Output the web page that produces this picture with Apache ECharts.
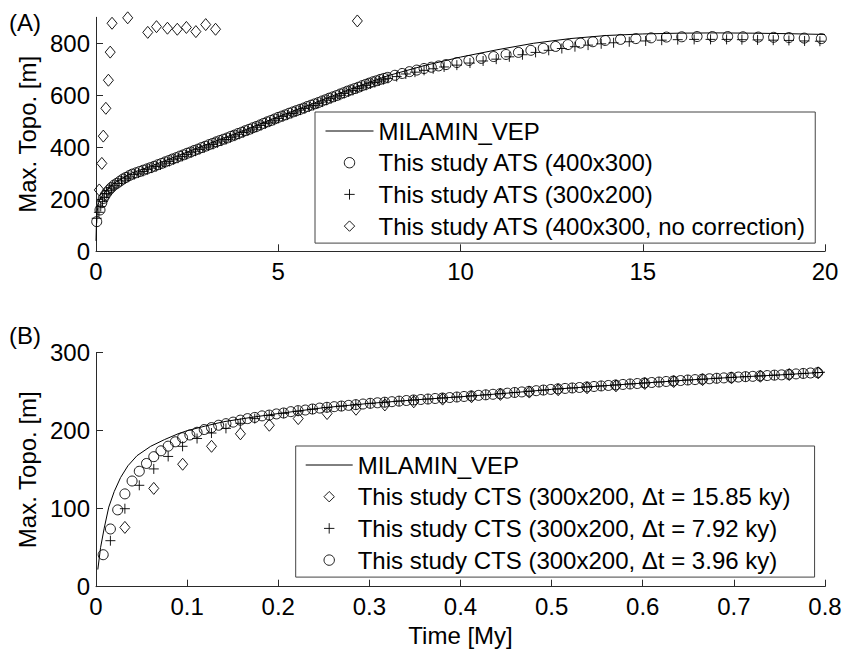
<!DOCTYPE html>
<html>
<head>
<meta charset="utf-8">
<script src="https://cdn.jsdelivr.net/npm/echarts@6/dist/echarts.min.js"></script>
<style>
  html, body { margin: 0; padding: 0; background: #fff; }
  #chart { width: 842px; height: 652px; }
</style>
</head>
<body>
<div id="chart"></div>
<script>
// ---------- Panel (A): adaptive time stepping, time in My ----------
const timeTicksA = [0, 5, 10, 15, 20];
const topoTicksA = [0, 200, 400, 600, 800];

// reference solution (MILAMIN_VEP), [time, max topography]
const milaminA = [[0,40],[0.01,100],[0.03,150],[0.06,180],[0.1,198],[0.2,220],[0.3,236],[0.5,262],[0.75,284],
  [1,302],[1.5,327],[2,354],[3,409],[4,462],[5,518],[6,571],[7,625],[8,675],[9,714],[10,747],[11,775],
  [12,800],[13,818],[14,830],[15,836],[16,839],[17,840],[18,839],[19,837],[20,834]];

// ATS 400x300
const ats400 = [[0.02,114],[0.11,159],[0.16,187],[0.2,203],[0.25,215],[0.3,226],[0.36,236],[0.42,245],[0.5,255],
  [0.58,262],[0.66,270],[0.74,278],[0.82,284],[0.91,291],
  [1.0,297],[1.1,302],[1.2,307],[1.3,312],[1.4,317],[1.5,322],[1.6,327],[1.7,333],[1.8,338],[1.9,344],
  [2.0,349],[2.1,355],[2.2,360],[2.3,366],[2.4,371],[2.5,377],[2.6,382],[2.7,388],[2.8,393],[2.9,399],
  [3.0,404],[3.1,410],[3.2,415],[3.3,421],[3.4,426],[3.5,431],[3.6,436],[3.7,442],[3.8,447],[3.9,453],
  [4.0,458],[4.1,464],[4.2,469],[4.3,475],[4.4,480],[4.5,486],[4.6,492],[4.7,498],[4.8,503],[4.9,509],
  [5.0,515],[5.1,520],[5.2,525],[5.3,531],[5.4,536],[5.5,541],[5.6,546],[5.7,551],[5.8,557],[5.9,562],
  [6.0,567],[6.1,572],[6.2,578],[6.3,583],[6.4,589],[6.5,594],[6.6,599],[6.7,605],[6.8,610],[6.9,616],
  [7.0,621],[7.1,626],[7.2,631],[7.3,637],[7.4,642],[7.5,647],[7.6,652],[7.7,656],[7.8,661],[7.9,665],
  [8.0,669],[8.2,677],[8.4,684],[8.6,691],[8.8,697],[9.0,703],[9.2,708],[9.4,713],[9.6,718],[9.9,726],
  [10.23,734],[10.57,742],[10.91,749],[11.25,757],[11.59,765],[11.93,773],[12.27,781],[12.61,788],
  [12.95,795],[13.29,801],[13.63,806],[13.97,811],[14.39,815],[14.81,818],[15.23,821],[15.65,824],
  [16.07,825],[16.49,826],[16.91,826],[17.33,826],[17.75,825],[18.17,824],[18.59,823],[19.01,822],
  [19.43,820],[19.9,818]];

// ATS 300x200
const ats300 = [[0.02,127],[0.08,150],[0.13,172],[0.18,192],[0.23,208],[0.29,222],[0.35,233],[0.42,243],
  [0.5,252],[0.6,261],[0.7,271],[0.8,279],[0.9,286],
  [1.05,295],[1.17,301],[1.29,307],[1.41,314],[1.53,320],[1.65,326],[1.77,332],[1.89,339],[2.01,345],
  [2.13,352],[2.25,358],[2.37,365],[2.49,372],[2.61,379],[2.73,385],[2.85,392],[2.97,398],[3.09,405],
  [3.21,411],[3.33,417],[3.45,424],[3.57,430],[3.69,437],[3.81,443],[3.93,450],[4.05,457],[4.17,463],
  [4.29,470],[4.41,477],[4.53,484],[4.65,491],[4.77,497],[4.89,504],[5.01,511],[5.13,518],[5.25,524],
  [5.37,530],[5.49,536],[5.61,543],[5.73,549],[5.85,555],[5.97,561],[6.09,568],[6.21,574],[6.33,581],
  [6.45,587],[6.57,594],[6.69,600],[6.81,607],[6.93,613],[7.05,619],[7.17,626],[7.29,632],[7.41,638],
  [7.53,644],[7.65,649],[7.77,655],[7.89,660],[8.01,665],[8.25,672],[8.5,682],[8.75,689],[9.0,696],
  [9.25,702],[9.55,709],[9.9,716],[10.26,724],[10.62,732],[10.98,739],[11.34,748],[11.7,756],[12.06,765],
  [12.42,773],[12.78,780],[13.14,787],[13.5,793],[13.86,798],[14.2,802],[14.63,806],[15.08,809],
  [15.52,812],[15.96,814],[16.41,815],[16.86,815],[17.3,815],[17.72,814],[18.15,813],[18.58,812],
  [19.01,811],[19.44,809],[19.86,808]];

// ATS 400x300 without correction
const ats400NoCorr = [[0.09,236],[0.16,338],[0.2,443],[0.27,550],[0.34,658],[0.39,766],[0.44,877],
  [0.87,898],[1.42,842],[1.66,864],[1.96,858],[2.23,854],[2.48,861],[2.74,845],[3.01,872],[3.28,854],
  [7.17,886]];

const namesA = ['MILAMIN_VEP', 'This study ATS (400x300)', 'This study ATS (300x200)',
  'This study ATS (400x300, no correction)'];

// ---------- Panel (B): constant time stepping, time in My ----------
const timeTicksB = [0, 0.1, 0.2, 0.3, 0.4, 0.5, 0.6, 0.7, 0.8];
const topoTicksB = [0, 100, 200, 300];

const milaminB = [[0.002,22],[0.005,50],[0.009,75],[0.014,102],[0.02,122],[0.027,140],[0.035,155],
  [0.045,168],[0.06,180],[0.075,188.5],[0.09,196],[0.1,200],[0.12,206],[0.14,211.5],[0.17,217],[0.2,222],
  [0.25,229.5],[0.3,235],[0.35,239.5],[0.4,243.5],[0.45,248],[0.5,253],[0.55,257],[0.6,261],[0.65,265],
  [0.7,268.5],[0.75,271.5],[0.8,275]];

// CTS, dt = 15.85 ky
const cts1585 = [[0.0317,76],[0.0634,126],[0.0951,157],[0.1268,180],[0.1585,196],[0.1902,207],
  [0.2219,215.5],[0.2536,222],[0.2853,227.5],[0.3170,233],[0.3487,237],[0.3804,240.5],[0.4121,243.5],
  [0.4438,246.5],[0.4755,249.5],[0.5072,252.5],[0.5389,255],[0.5706,257.5],[0.6023,260.5],[0.6340,263],
  [0.6657,265.5],[0.6974,267.8],[0.7291,269.8],[0.7608,272],[0.7925,274.2]];

// CTS, dt = 7.92 ky
const cts792 = [[0.0158,59],[0.0317,100],[0.0475,130],[0.0634,151],[0.0792,167],[0.0950,180],[0.1109,190],
  [0.1267,197],[0.1426,203],[0.1584,209.5],[0.1742,215.5],[0.1901,219.5],[0.2059,222.3],[0.2218,225],
  [0.2376,227.6],[0.2534,229.8],[0.2693,231.5],[0.2851,233.3],[0.3010,235],[0.3168,236.5],[0.3326,238],
  [0.3485,239.3],[0.3643,240.6],[0.3802,242],[0.3960,243.2],[0.4118,244.6],[0.4277,246],[0.4435,247.4],
  [0.4594,249],[0.4752,250.5],[0.4910,252],[0.5069,253.6],[0.5227,254.8],[0.5386,256],[0.5544,257.4],
  [0.5702,258.6],[0.5861,260],[0.6019,261.2],[0.6178,262.4],[0.6336,263.7],[0.6494,265],[0.6653,266],
  [0.6811,267.2],[0.6970,268.3],[0.7128,269.3],[0.7286,270.2],[0.7445,271.2],[0.7603,272.2],
  [0.7762,273.4],[0.7920,274.5]];

// CTS, dt = 3.96 ky
const cts396 = [[0.0079,41],[0.0158,74],[0.0238,98.5],[0.0317,119],[0.0396,135.5],[0.0475,148],[0.0554,158],
  [0.0634,166.7],[0.0713,174.2],[0.0792,180.2],[0.0871,185.8],[0.0950,191],[0.1030,194.5],[0.1109,198],
  [0.1188,201.5],[0.1267,204],[0.1346,207],[0.1426,209],[0.1505,211],[0.1584,213.5],[0.1663,215.5],
  [0.1742,217],[0.1822,219],[0.1901,220],[0.1980,221.5],[0.2059,222.7],[0.2138,224.4],[0.2218,225.7],
  [0.2297,226.5],[0.2376,227.8],[0.2455,229],[0.2534,230],[0.2614,230.8],[0.2693,231.6],[0.2772,232.5],
  [0.2851,233.4],[0.2930,234.2],[0.3010,235.1],[0.3089,235.8],[0.3168,236.5],[0.3247,237.2],[0.3326,237.9],
  [0.3406,238.7],[0.3485,239.4],[0.3564,240],[0.3643,240.6],[0.3722,241.3],[0.3802,241.9],[0.3881,242.5],
  [0.3960,243.2],[0.4039,243.9],[0.4118,244.6],[0.4198,245.3],[0.4277,246],[0.4356,246.7],[0.4435,247.4],
  [0.4514,248.1],[0.4594,249],[0.4673,249.7],[0.4752,250.5],[0.4831,251.3],[0.4910,252.1],[0.4990,252.9],
  [0.5069,253.6],[0.5148,254.2],[0.5227,254.8],[0.5306,255.4],[0.5386,256.1],[0.5465,256.7],[0.5544,257.4],
  [0.5623,258],[0.5702,258.6],[0.5782,259.3],[0.5861,259.9],[0.5940,260.5],[0.6019,261.2],[0.6098,261.8],
  [0.6178,262.4],[0.6257,263.1],[0.6336,263.7],[0.6415,264.3],[0.6494,265],[0.6574,265.5],[0.6653,266.1],
  [0.6732,266.6],[0.6811,267.2],[0.6890,267.7],[0.6970,268.3],[0.7049,268.8],[0.7128,269.3],[0.7207,269.7],
  [0.7286,270.2],[0.7366,270.7],[0.7445,271.2],[0.7524,271.6],[0.7603,272.2],[0.7682,272.8],[0.7762,273.4],
  [0.7841,274],[0.7920,274.5]];

const namesB = ['MILAMIN_VEP ', 'This study CTS (300x200, \u0394t = 15.85 ky)',
  'This study CTS (300x200, \u0394t = 7.92 ky)', 'This study CTS (300x200, \u0394t = 3.96 ky)'];

// ---------- styling ----------
const FONT = "'Liberation Sans', Arial, Helvetica, sans-serif";
const AXIS_COLOR = '#2a2a2a';
const PLUS = 'path://M5,0L5,10M0,5L10,5';

function refLine(name, data, grid) {
  return {
    type: 'line', name, data, xAxisIndex: grid, yAxisIndex: grid,
    symbol: 'none', smooth: false, clip: false,
    lineStyle: { color: '#000', width: 1 },
    itemStyle: { color: 'rgba(0,0,0,0)', borderWidth: 0 },
    silent: true, z: 3
  };
}

function markers(name, data, symbol, size, grid) {
  return {
    type: 'line', name, data, xAxisIndex: grid, yAxisIndex: grid,
    symbol, symbolSize: size, showSymbol: true, showAllSymbol: true, clip: false,
    lineStyle: { width: 0, opacity: 0 },
    itemStyle: { color: 'rgba(0,0,0,0)', borderColor: '#000', borderWidth: 0.9 },
    silent: true, z: 2
  };
}

function valueAxis(grid, min, max, ticks, extra) {
  return Object.assign({
    type: 'value', gridIndex: grid, min, max,
    axisLine: { show: true, onZero: false, lineStyle: { color: AXIS_COLOR, width: 1 } },
    axisTick: { show: true, inside: true, length: 7, customValues: ticks,
      lineStyle: { color: AXIS_COLOR, width: 1 } },
    axisLabel: { customValues: ticks, color: '#000', fontSize: 24, fontFamily: FONT },
    splitLine: { show: false }
  }, extra || {});
}

const legendBase = {
  orient: 'vertical', itemWidth: 48, itemHeight: 13, itemGap: 7.7,
  borderColor: '#444', borderWidth: 1, backgroundColor: '#fff', borderRadius: 0,
  textStyle: { fontSize: 24, color: '#000', fontFamily: FONT },
  itemStyle: { borderWidth: 0.9 },
  lineStyle: { width: 1 },
  selectedMode: false, z: 10
};

const option = {
  animation: false,
  backgroundColor: '#fff',
  textStyle: { fontFamily: FONT },
  title: [
    { text: '(A)', left: 9, top: 10, padding: 0,
      textStyle: { fontSize: 24, fontWeight: 'normal', color: '#000', fontFamily: FONT } },
    { text: '(B)', left: 9, top: 323, padding: 0,
      textStyle: { fontSize: 24, fontWeight: 'normal', color: '#000', fontFamily: FONT } }
  ],
  grid: [
    { left: 96, right: 17, top: 17.3, height: 234, outerBoundsMode: 'none', containLabel: false },
    { left: 96, right: 17, top: 352.7, height: 234, outerBoundsMode: 'none', containLabel: false }
  ],
  xAxis: [
    valueAxis(0, 0, 20, timeTicksA, { axisLabel: { customValues: timeTicksA, color: '#000',
      fontSize: 24, fontFamily: FONT, margin: 8 } }),
    valueAxis(1, 0, 0.8, timeTicksB, {
      axisLabel: { customValues: timeTicksB, color: '#000', fontSize: 24, fontFamily: FONT, margin: 8,
        formatter: v => (v === 0 ? '0' : v.toFixed(1)) },
      name: 'Time [My]', nameLocation: 'middle', nameGap: 37,
      nameTextStyle: { fontSize: 24, color: '#000', fontFamily: FONT }
    })
  ],
  yAxis: [
    valueAxis(0, 0, 900, topoTicksA, {
      axisLabel: { customValues: topoTicksA, color: '#000', fontSize: 24, fontFamily: FONT, margin: 6 },
      name: 'Max. Topo. [m]', nameLocation: 'middle', nameGap: 50,
      nameTextStyle: { fontSize: 24, color: '#000', fontFamily: FONT }
    }),
    valueAxis(1, 0, 300, topoTicksB, {
      axisLabel: { customValues: topoTicksB, color: '#000', fontSize: 24, fontFamily: FONT, margin: 6 },
      name: 'Max. Topo. [m]', nameLocation: 'middle', nameGap: 50,
      nameTextStyle: { fontSize: 24, color: '#000', fontFamily: FONT }
    })
  ],
  legend: [
    Object.assign({}, legendBase, { data: namesA, left: 315, top: 112, padding: [7, 9, 5, 10] }),
    Object.assign({}, legendBase, { data: namesB, left: 295.7, top: 446, padding: [7, 24, 5, 9.5],
      itemWidth: 47 })
  ],
  series: [
    refLine(namesA[0], milaminA, 0),
    markers(namesA[1], ats400, 'circle', 10, 0),
    markers(namesA[2], ats300, PLUS, 10, 0),
    markers(namesA[3], ats400NoCorr, 'diamond', [10, 12], 0),
    refLine(namesB[0], milaminB, 1),
    markers(namesB[1], cts1585, 'diamond', [10, 12], 1),
    markers(namesB[2], cts792, PLUS, 10, 1),
    markers(namesB[3], cts396, 'circle', 10, 1)
  ]
};

const chart = echarts.init(document.getElementById('chart'), null, { renderer: 'svg' });
chart.setOption(option);
</script>
</body>
</html>
